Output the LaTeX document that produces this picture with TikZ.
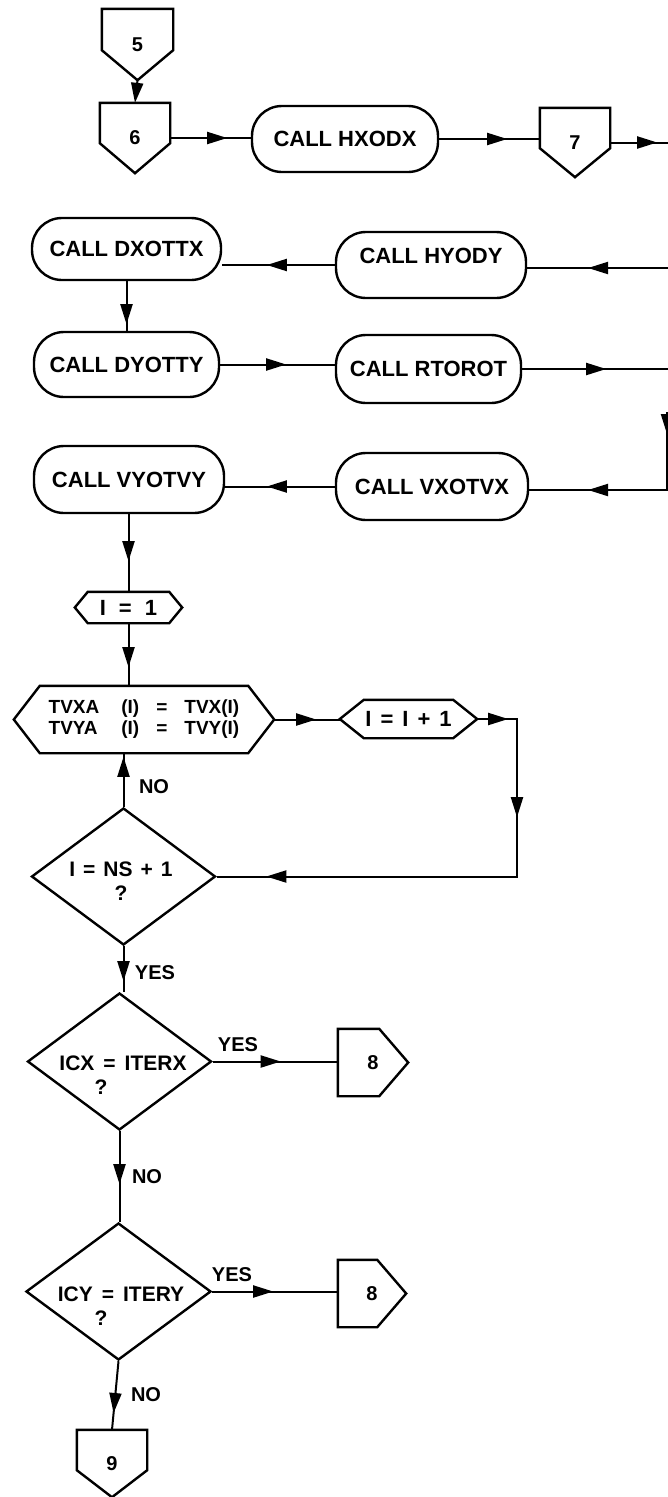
\documentclass[tikz,border=0pt]{standalone}
\usepackage{fontspec}
\setmainfont{Liberation Sans}
\usetikzlibrary{arrows.meta,decorations.markings,shapes.geometric}

\newcommand\pentdown[2]{\draw[outl] (#1.north west) -- (#1.north east) -- ([yshift=#2]#1.south east) -- (#1.south) -- ([yshift=#2]#1.south west) -- cycle;}
\newcommand\pentright[2]{\draw[outl] (#1.north west) -- ([xshift=-#2]#1.north east) -- (#1.east) -- ([xshift=-#2]#1.south east) -- (#1.south west) -- cycle;}
\newcommand\hexa[2]{\draw[outl] ([xshift=#2]#1.north west) -- ([xshift=-#2]#1.north east) -- (#1.east) -- ([xshift=-#2]#1.south east) -- ([xshift=#2]#1.south west) -- (#1.west) -- cycle;}

\tikzset{
  AT/.tip={Triangle[length=20pt,width=12pt]},
  outl/.style={line width=2.4pt, line join=miter},
  conn/.style={line width=2pt},
  ar/.style={conn, postaction={decorate}, decoration={markings, mark=at position #1 with {\arrow{AT}}}},
  artwo/.style 2 args={conn, postaction={decorate}, decoration={markings, mark=at position #1 with {\arrow{AT}}, mark=at position #2 with {\arrow{AT}}}},
  arthree/.style n args={3}{conn, postaction={decorate}, decoration={markings, mark=at position #1 with {\arrow{AT}}, mark=at position #2 with {\arrow{AT}}, mark=at position #3 with {\arrow{AT}}}},
  stadium/.style={draw, line width=2.4pt, rectangle, rounded corners=30pt, inner sep=0pt, font=\bfseries\fontsize{22}{24}\selectfont},
  offp/.style={draw=none, inner sep=0pt, font=\bfseries\fontsize{20}{22}\selectfont},
  hexn/.style={draw=none, inner sep=0pt, align=center, font=\bfseries\fontsize{22}{24}\selectfont},
  dec/.style={draw, line width=2.4pt, diamond, aspect=1.34, inner sep=0pt, minimum width=184pt, minimum height=137pt},
  dtext/.style={inner sep=0pt, align=center, font=\bfseries\fontsize{21}{24}\selectfont},
  lbl/.style={inner sep=0pt, font=\bfseries\fontsize{20}{22}\selectfont},
}

\begin{document}
\begin{tikzpicture}[x=1pt,y=-1pt]
\useasboundingbox (0,0) rectangle (668,1497);
\fill[white] (0,0) rectangle (668,1497);
\clip (0,0) rectangle (668,1497);

% off-page connectors
\node[offp, minimum width=71pt, minimum height=71pt] (c5) at (137.5,44.5) {5};
\pentdown{c5}{30pt}
\node[offp, minimum width=70pt, minimum height=70pt] (c6) at (135,138) {6};
\pentdown{c6}{30pt}
\node[offp, minimum width=70pt, minimum height=69pt] (c7) at (575,142.5) {7};
\pentdown{c7}{29pt}
\node[offp, minimum width=70pt, minimum height=67pt] (c8a) at (373,1062.5) {8};
\pentright{c8a}{29pt}
\node[offp, minimum width=68pt, minimum height=67pt] (c8b) at (372,1293.5) {8};
\pentright{c8b}{29pt}
\node[offp, minimum width=70pt, minimum height=67pt] (c9) at (112,1463.5) {9};
\pentdown{c9}{27pt}

% call boxes
\node[stadium, minimum width=186pt, minimum height=66pt] (hx) at (345,139) {CALL HXODX};
\node[stadium, minimum width=189pt, minimum height=62pt] (dx) at (126.5,249) {CALL DXOTTX};
\node[stadium, minimum width=190pt, minimum height=66pt, text depth=18pt] (hy) at (431,265) {CALL HYODY};
\node[stadium, minimum width=185pt, minimum height=65pt] (dy) at (126.5,364.5) {CALL DYOTTY};
\node[stadium, minimum width=185pt, minimum height=68pt] (rt) at (428.5,369) {CALL RTOROT};
\node[stadium, minimum width=190pt, minimum height=67pt] (vy) at (129,479.5) {CALL VYOTVY};
\node[stadium, minimum width=192pt, minimum height=67pt] (vx) at (432,486.5) {CALL VXOTVX};

% hexagons
\node[hexn, minimum width=107pt, minimum height=31pt] (i1) at (128.5,607.5) {I\hspace{13pt}=\hspace{13pt}1};
\hexa{i1}{13pt}
\node[hexn, minimum width=260pt, minimum height=67pt, font=\bfseries\fontsize{19}{21}\selectfont] (tv) at (144,719.5)
  {\begin{tabular}{@{}l@{\hspace{22pt}}c@{\hspace{17pt}}c@{\hspace{17pt}}l@{}}TVXA & (I) & = & TVX(I)\\ TVYA & (I) & = & TVY(I)\end{tabular}};
\hexa{tv}{26pt}
\node[hexn, minimum width=137pt, minimum height=38pt] (ii) at (408.5,719) {I\hspace{9pt}=\hspace{9pt}I\hspace{9pt}+\hspace{9pt}1};
\hexa{ii}{24pt}

% decisions
\node[dec] (d1) at (123.5,876.5) {};
\node[dtext] (d1t) at (121,881) {I\hspace{8pt}=\hspace{8pt}NS\hspace{8pt}+\hspace{8pt}1\\?};
\node[dec] (d2) at (119.5,1061.5) {};
\node[dtext] (d2t) at (123,1075) {ICX\hspace{9pt}=\hspace{9pt}ITERX\\?\rule{44pt}{0pt}};
\node[dec, minimum width=185pt] (d3) at (118.5,1291.5) {};
\node[dtext] (d3t) at (121,1306) {ICY\hspace{9pt}=\hspace{9pt}ITERY\\?\rule{40pt}{0pt}};

% free ends at the right margin
\coordinate (e1) at (672,142);
\coordinate (e2) at (672,268);
\coordinate (e3) at (672,372);
\coordinate (e4) at (667,412);
\coordinate (e5) at (667,490);
\coordinate (kx) at (517,800);

% connectors
\draw[conn,-{AT}] (c5.south) -- (c6.north);
\draw[ar=57pt] (c6.east) -- (c6.east -| hx.west);
\draw[ar=68pt] (hx.east) -- (hx.east -| c7.west);
\draw[ar=47pt] (c7.east) -- (c7.east -| e1);
\draw[ar=84pt] (e2) -- (e2 -| hy.east);
\draw[ar=68pt] (hy.west) -- (hy.west -| dx.east);
\draw[ar=43pt] (dx.south) -- (dx.south |- dy.north);
\draw[ar=66pt] (dy.east) -- (dy.east -| rt.west);
\draw[ar=84pt] (rt.east) -- (rt.east -| e3);
\draw[artwo={22pt}{157pt}] (e4) -- (e5) -- (e5 -| vx.east);
\draw[ar=68pt] (vx.west) -- (vx.west -| vy.east);
\draw[ar=47pt] (i1.north |- vy.south) -- (i1.north);
\draw[ar=44pt] (i1.south) -- (i1.south |- tv.north);
\draw[ar=42pt] (tv.east) -- (tv.east -| ii.west);
\draw[arthree={31pt}{138pt}{448pt}] (ii.east) -- (ii.east -| kx) -- (kx |- d1.east) -- (d1.east);
\draw[ar=50pt] (d1.north) -- (d1.north |- tv.south);
\node[lbl] (no1) at (154,787) {NO};
\draw[ar=35pt] (d1.south) -- (d1.south |- d2.north);
\node[lbl] (yes1) at (155,973) {YES};
\draw[ar=68pt] (d2.east) -- (d2.east -| c8a.west);
\node[lbl] (yes2) at (238,1045) {YES};
\draw[ar=53pt] (d2.south) -- (d2.south |- d3.north);
\node[lbl] (no2) at (147,1177) {NO};
\draw[ar=61pt] (d3.east) -- (d3.east -| c8b.west);
\node[lbl] (yes3) at (232,1275) {YES};
\draw[ar=52pt] (d3.south) -- (c9.north);
\node[lbl] (no3) at (146,1395) {NO};
\end{tikzpicture}
\end{document}
